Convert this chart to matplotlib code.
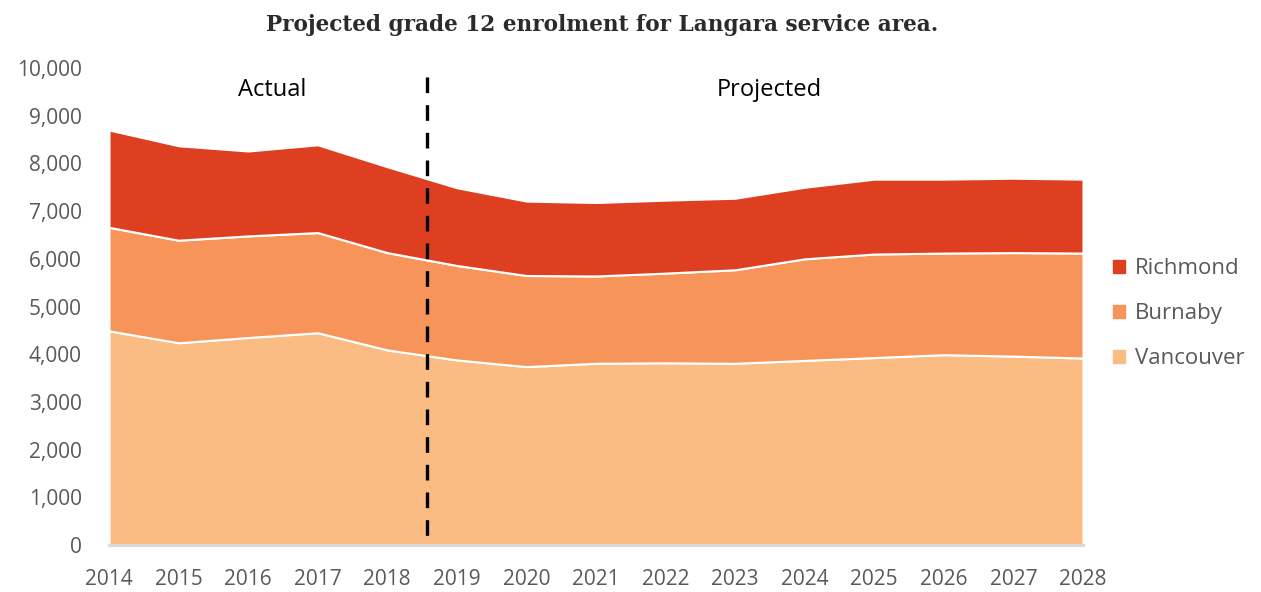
import matplotlib
matplotlib.use("Agg")
import matplotlib.pyplot as plt
from matplotlib.patches import Patch
from matplotlib.ticker import FuncFormatter

years = list(range(2014, 2029))
vancouver = [4490, 4240, 4350, 4450, 4090, 3880, 3740, 3810, 3820, 3810, 3870, 3930, 3990, 3960, 3920]
burnaby = [2170, 2150, 2130, 2100, 2040, 1980, 1910, 1830, 1880, 1960, 2130, 2170, 2130, 2170, 2200]
richmond = [2040, 1980, 1780, 1840, 1800, 1630, 1560, 1540, 1530, 1500, 1500, 1570, 1550, 1560, 1550]
series_names = ["Vancouver", "Burnaby", "Richmond"]
colors = ["#FBBC84", "#F69459", "#DE3F21"]
split_year = 2018.57
yticks = list(range(0, 10001, 1000))

plt.rcParams['font.family'] = ['Open Sans', 'DejaVu Sans']
fig = plt.figure(figsize=(12.61, 5.92), dpi=100)
ax = fig.add_axes([109/1261, 1-545/592, (1083-109)/1261, (545-68)/592])

ax.stackplot(years, vancouver, burnaby, richmond, colors=colors,
             edgecolor="white", linewidth=1.5, labels=series_names)

ax.set_xlim(2014, 2028)
ax.set_ylim(0, 10000)
ax.set_xticks(years)
ax.set_yticks(yticks)
ax.yaxis.set_major_formatter(FuncFormatter(lambda v, p: f"{int(v):,}"))
ax.tick_params(axis='both', length=0, labelsize=15, labelcolor="#595959")
ax.tick_params(axis='y', pad=19.5)
ax.tick_params(axis='x', pad=17)
for s in ["top", "right", "left"]:
    ax.spines[s].set_visible(False)
ax.spines["bottom"].set_color("#D9D9D9")
ax.spines["bottom"].set_linewidth(2.2)
ax.spines["bottom"].set_zorder(6)

ax.plot([split_year, split_year], [9810, 0], color="black", lw=2.4,
        linestyle=(0, (4.7, 3.6)), clip_on=False, zorder=5)

ax.text(2016.35, 9410, "Actual", ha="center", va="baseline", fontsize=17, color="black")
ax.text(2023.49, 9410, "Projected", ha="center", va="baseline", fontsize=17, color="black")

fig.text(602/1261, 1-25/592, "Projected grade 12 enrolment for Langara service area.",
         ha="center", va="center", fontsize=15.6, fontweight="bold",
         family=["DejaVu Serif"], color="#2B2B2B")

handles = [Patch(color=colors[2]), Patch(color=colors[1]), Patch(color=colors[0])]
leg = ax.legend(handles, ["Richmond", "Burnaby", "Vancouver"], loc="center left",
                bbox_to_anchor=(1.0308, 0.4843), frameon=False, fontsize=16,
                handlelength=0.55, handleheight=0.55, handletextpad=0.45,
                labelspacing=1.08, borderaxespad=0, borderpad=0)
for t in leg.get_texts():
    t.set_color("#595959")

fig.savefig("out.png", dpi=100)
